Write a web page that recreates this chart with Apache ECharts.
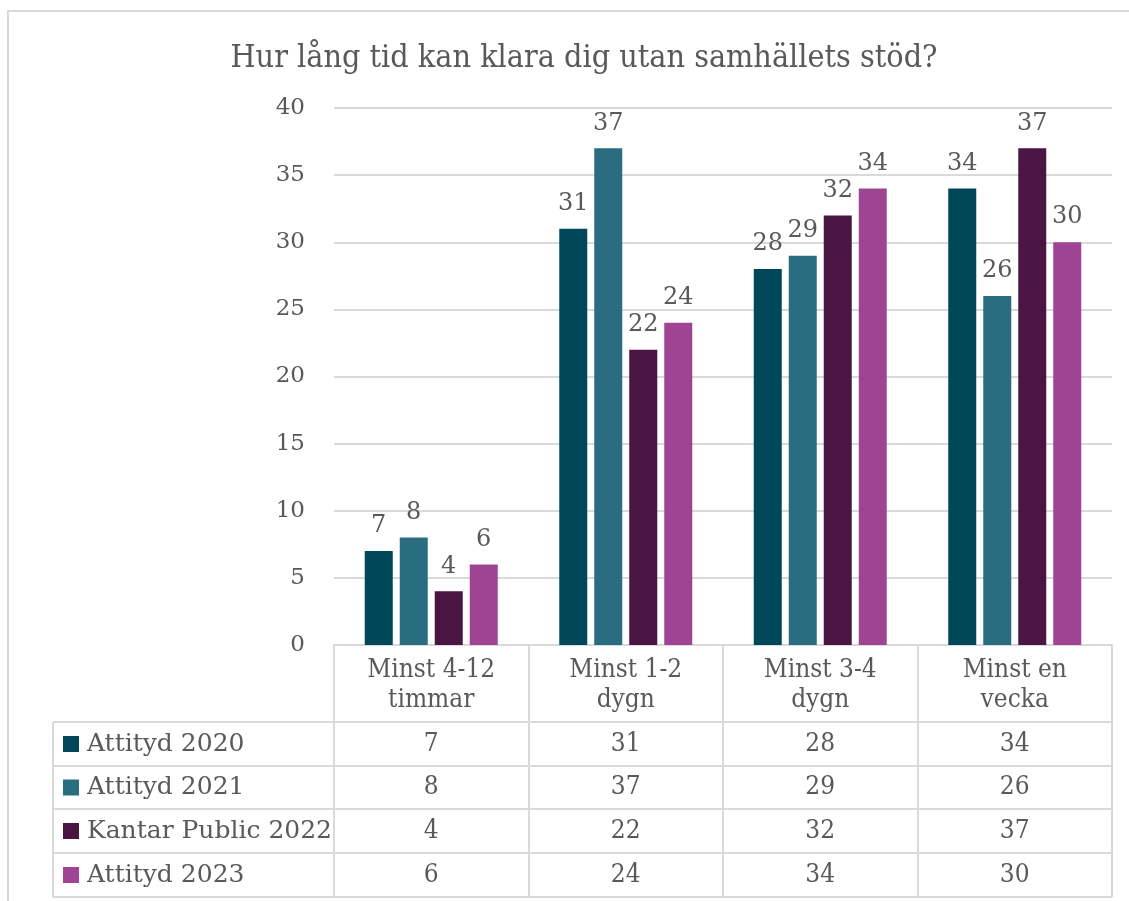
<!DOCTYPE html>
<html>
<head>
<meta charset="utf-8">
<script src="https://cdn.jsdelivr.net/npm/echarts@6/dist/echarts.min.js"></script>
<style>
  html, body { margin: 0; padding: 0; background: #fff; }
  #chart { width: 1129px; height: 901px; }
</style>
</head>
<body>
<div id="chart"></div>
<script>
const categories = ['Minst 4-12\ntimmar', 'Minst 1-2\ndygn', 'Minst 3-4\ndygn', 'Minst en\nvecka'];
const seriesNames = ['Attityd 2020', 'Attityd 2021', 'Kantar Public 2022', 'Attityd 2023'];
const attityd2020 = [7, 31, 28, 34];
const attityd2021 = [8, 37, 29, 26];
const kantar2022 = [4, 22, 32, 37];
const attityd2023 = [6, 24, 34, 30];
const colors = ['#00475a', '#2a6d80', '#4a1443', '#9e4493'];

const seriesData = [attityd2020, attityd2021, kantar2022, attityd2023];

const textColor = '#595959';
const lineColor = '#d9d9d9';
const condensed = '"DejaVu Serif Condensed", "Liberation Serif", serif';
const wide = '"DejaVu Serif", serif';

// layout of plot + data table
const gridLeft = 334, gridRight = 1112, gridTop = 108, axisY = 645;
const rowLines = [722, 766, 809, 853, 897];
const tableLeft = 53;

const chart = echarts.init(document.getElementById('chart'));

const rowCenters = rowLines.slice(0, 4).map((y, i) => (y + rowLines[i + 1]) / 2);

// extra category axes act as the value rows of the data table
const tableAxes = seriesData.map((vals, i) => ({
  type: 'category',
  data: categories,
  position: 'bottom',
  offset: rowCenters[i] - axisY,
  axisLine: { show: false },
  axisTick: { show: false },
  axisLabel: {
    margin: 0,
    verticalAlign: 'middle',
    color: textColor,
    fontFamily: condensed,
    fontSize: 26,
    formatter: (v, idx) => String(vals[idx])
  }
}));

const legends = seriesNames.map((name, i) => ({
  data: [name],
  left: 63,
  top: rowCenters[i] - 13,
  padding: 0,
  icon: 'rect',
  itemWidth: 16,
  itemHeight: 16,
  itemGap: 0,
  selectedMode: false,
  textStyle: {
    color: textColor,
    fontFamily: wide,
    fontSize: 25,
    lineHeight: 26,
    padding: [0, 0, 0, 3]
  }
}));

const graphic = [
  { type: 'rect', shape: { x: 8, y: 11, width: 1200, height: 1000 }, style: { fill: 'none', stroke: lineColor, lineWidth: 2 }, silent: true },
  { type: 'line', shape: { x1: tableLeft, y1: rowLines[0], x2: tableLeft, y2: rowLines[4] }, style: { stroke: lineColor, lineWidth: 2 }, silent: true }
].concat(rowLines.map(y => ({
  type: 'line',
  shape: { x1: tableLeft, y1: y, x2: gridRight, y2: y },
  style: { stroke: lineColor, lineWidth: 2 },
  silent: true
})));

chart.setOption({
  backgroundColor: '#fff',
  animation: false,
  title: {
    text: 'Hur lång tid kan klara dig utan samhällets stöd?',
    left: 579,
    textAlign: 'center',
    top: 38,
    textStyle: { color: textColor, fontFamily: condensed, fontWeight: 'normal', fontSize: 32 }
  },
  legend: legends,
  grid: { left: gridLeft, right: 1129 - gridRight, top: gridTop, bottom: 901 - axisY },
  xAxis: [{
    type: 'category',
    data: categories,
    axisLine: { show: true, lineStyle: { color: lineColor, width: 2 } },
    axisTick: { show: true, length: rowLines[4] - axisY, lineStyle: { color: lineColor, width: 2 } },
    axisLabel: {
      color: textColor,
      fontFamily: condensed,
      fontSize: 26,
      lineHeight: 30,
      margin: 10
    }
  }].concat(tableAxes),
  yAxis: {
    type: 'value',
    min: 0,
    max: 40,
    interval: 5,
    axisLine: { show: false },
    axisTick: { show: false },
    splitLine: { lineStyle: { color: lineColor, width: 2 } },
    axisLabel: { color: textColor, fontFamily: wide, fontSize: 23, margin: 29 }
  },
  graphic: graphic,
  series: seriesNames.map((name, i) => ({
    name: name,
    type: 'bar',
    data: seriesData[i],
    barWidth: 28,
    barGap: '25%',
    itemStyle: { color: colors[i] },
    label: {
      show: true,
      position: 'top',
      distance: 13,
      color: textColor,
      fontFamily: wide,
      fontSize: 24
    }
  }))
});
</script>
</body>
</html>
